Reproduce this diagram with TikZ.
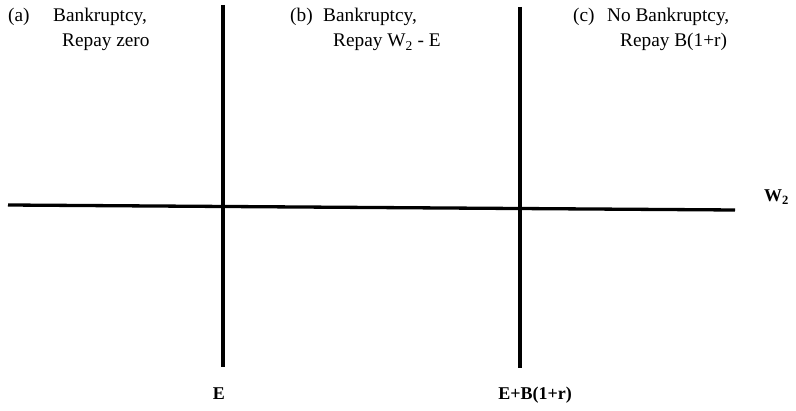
\documentclass[tikz,border=0pt]{standalone}
\usepackage{fontspec}
\setmainfont{Liberation Serif}
\begin{document}
\begin{tikzpicture}[x=1pt,y=-1pt,
  lbl/.style={anchor=base west,inner sep=0pt,font=\fontsize{19.3}{22}\selectfont},
  blbl/.style={anchor=base,inner sep=0pt,font=\fontsize{18}{22}\selectfont\bfseries},
  haxis/.style={line width=3.3pt},
  vaxis/.style={line width=4pt}]
\useasboundingbox (0,0) rectangle (796,411);
% axes
\coordinate (h1) at (8,205);
\coordinate (h2) at (735,210);
\coordinate (v1t) at (223,5);
\coordinate (v1b) at (223,367);
\coordinate (v2t) at (520,7);
\coordinate (v2b) at (520,368);
\draw[haxis] (h1) -- (h2);
\draw[vaxis] (v1t) -- (v1b);
\draw[vaxis] (v2t) -- (v2b);
% region labels
\node[lbl] (a) at (8,22) {(a)};
\node[lbl] (a1) at (53,22) {Bankruptcy,};
\node[lbl] (a2) at (62,47) {Repay zero};
\node[lbl] (b) at (290,22) {(b)};
\node[lbl] (b1) at (323,22) {Bankruptcy,};
\node[lbl] (b2) at (333,47) {Repay W\textsubscript{2} - E};
\node[lbl] (c) at (573,22) {(c)};
\node[lbl] (c1) at (607,22) {No Bankruptcy,};
\node[lbl] (c2) at (620,47) {Repay B(1+r)};
% axis labels
\node[blbl] (E) at (219,400) {E};
\node[blbl] (EB) at (535,400) {E+B(1+r)};
\node[blbl,anchor=base west] (W) at (764,202) {W\textsubscript{2}};
\end{tikzpicture}
\end{document}
